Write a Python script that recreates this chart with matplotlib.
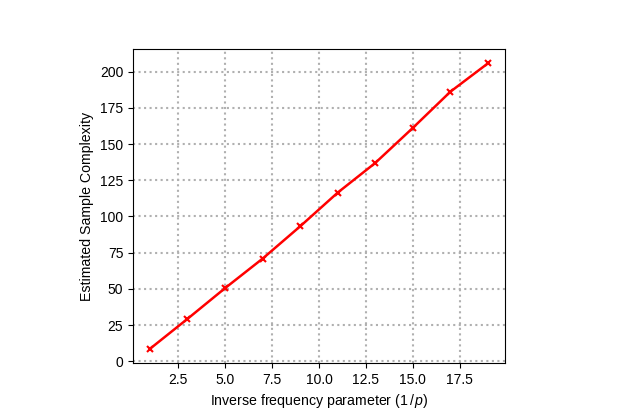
import numpy as np
import matplotlib
matplotlib.use("Agg")
import matplotlib.pyplot as plt

plt.rcParams['font.family'] = ['Liberation Sans', 'DejaVu Sans']
plt.rcParams['mathtext.fontset'] = 'custom'
plt.rcParams['mathtext.rm'] = 'Liberation Sans'
plt.rcParams['mathtext.it'] = 'Liberation Sans:italic'

inv_p = [1, 3, 5, 7, 9, 11, 13, 15, 17, 19]
sample_complexity = [8.6, 29.3, 50.5, 70.9, 93.2, 116.5, 137.0, 161.2, 186.2, 205.8]

fig = plt.figure(figsize=(6.23, 4.15), dpi=100)
ax = fig.add_axes([0.2135, 0.125, 0.597, 0.757])
ax.plot(inv_p, sample_complexity, color='red', marker='x', markersize=4,
        markeredgewidth=1.5, linewidth=1.8)
ax.grid(True, linestyle=':', color='#b0b0b0', linewidth=1.5)
ax.set_xlabel(r'Inverse frequency parameter ($1\,/\,p$)', fontsize=10.2)
ax.set_ylabel('Estimated Sample Complexity', fontsize=10.2)

fig.savefig('out.png', dpi=100)
